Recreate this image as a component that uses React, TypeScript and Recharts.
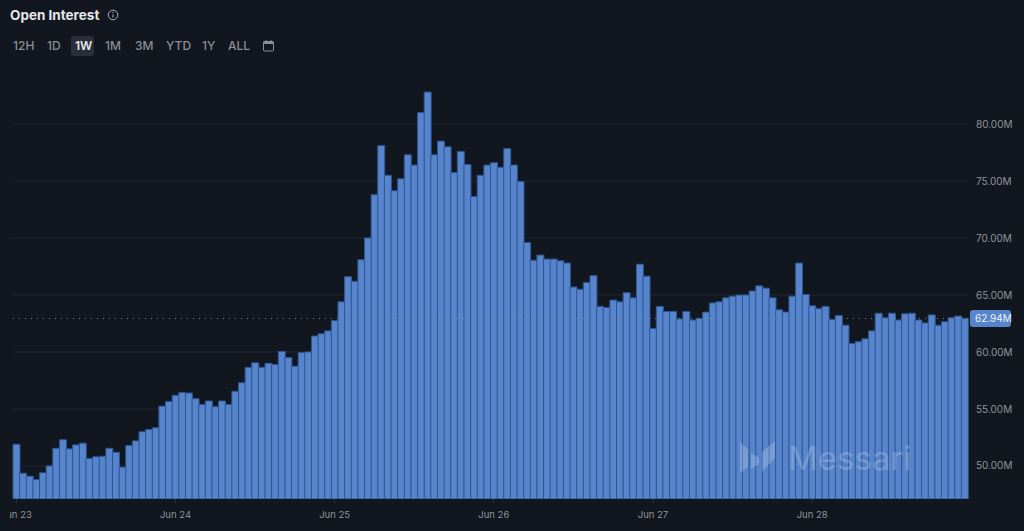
import { Bar, BarChart, CartesianGrid, ReferenceLine, XAxis, YAxis } from "recharts";

const openInterest = [
  51.9, 49.36, 49.1, 48.8, 49.4, 50.0, 51.55, 52.3, 51.5, 51.85, 52.0, 50.65, 50.8, 50.85, 51.55, 51.2,
  49.9, 51.8, 52.2, 53.0, 53.2, 53.35, 55.25, 55.65, 56.2, 56.45, 56.4, 55.9, 55.4, 55.7, 55.2, 55.7,
  55.4, 56.55, 57.3, 58.65, 59.05, 58.65, 59.0, 58.9, 60.05, 59.5, 58.75, 59.95, 60.0, 61.4, 61.6, 61.85,
  62.75, 64.4, 66.6, 66.2, 68.1, 70.0, 73.8, 78.1, 75.5, 74.15, 75.2, 77.3, 76.4, 81.0, 82.8, 77.3,
  78.5, 78.0, 75.75, 77.6, 76.45, 73.65, 75.5, 76.4, 76.6, 76.2, 77.85, 76.4, 74.95, 69.6, 68.05, 68.5,
  68.15, 68.15, 68.0, 67.8, 65.7, 65.5, 66.1, 66.7, 64.0, 63.9, 64.55, 64.4, 65.2, 64.75, 67.7, 66.65,
  62.05, 64.0, 63.55, 63.55, 62.9, 63.55, 62.8, 62.95, 63.5, 64.3, 64.4, 64.75, 64.9, 65.0, 65.0, 65.35,
  65.8, 65.6, 64.75, 63.7, 63.5, 64.9, 67.8, 65.05, 64.05, 63.8, 64.0, 62.85, 63.2, 62.35, 60.75, 60.9,
  61.15, 61.85, 63.4, 63.0, 63.4, 62.8, 63.35, 63.4, 62.8, 62.55, 63.25, 62.35, 62.65, 63.0, 63.15, 62.95,
];
const dayTicks = [0, 24, 48, 72, 96, 120];
const dayLabels = ["Jun 23", "Jun 24", "Jun 25", "Jun 26", "Jun 27", "Jun 28"];
const valueTicks = [50, 55, 60, 65, 70, 75, 80];
const latestValue = 62.94;
const ranges = ["12H", "1D", "1W", "1M", "3M", "YTD", "1Y", "ALL"];
const rangeLefts = [13, 47, 75, 105, 135, 166, 202, 228];

const data = openInterest.map((value, hour) => ({ hour, value }));
const font = "Inter, sans-serif";

const LatestLabel = (props: any) => {
  const y = props.viewBox.y;
  const x = props.viewBox.x + props.viewBox.width;
  return (
    <g>
      <rect x={x + 2} y={y - 8.5} width={41} height={17} rx={3} fill="#5784cb" />
      <text x={x + 7} y={y + 3.5} fill="#eef3fb" fontSize={10} fontFamily={font}>
        62.94M
      </text>
    </g>
  );
};

const App = () => {
  return (
    <div style={{ position: "absolute", left: 0, top: 0, width: 1024, height: 531, background: "#12161e", overflow: "hidden", fontFamily: font }}>
      <div style={{ position: "absolute", left: 10, top: 0 }}>
        <BarChart
          width={1014}
          height={531}
          data={data}
          margin={{ top: 70, right: 0, left: 3, bottom: 0 }}
          barCategoryGap={0}
        >
          <CartesianGrid vertical={false} horizontalValues={valueTicks} stroke="#212732" strokeWidth={1} />
          <XAxis
            dataKey="hour"
            ticks={dayTicks}
            interval={0}
            height={32}
            tickFormatter={(hour: number) => dayLabels[dayTicks.indexOf(hour)]}
            axisLine={false}
            tickLine={{ stroke: "#2b313c" }}
            tickSize={4}
            tickMargin={8}
            tick={{ fill: "#90959d", fontSize: 9.5, fontFamily: font }}
          />
          <YAxis
            orientation="right"
            width={56}
            domain={[47.1, 84.74]}
            ticks={valueTicks}
            allowDataOverflow
            tickFormatter={(v: number) => `${v.toFixed(2)}M`}
            axisLine={false}
            tickLine={false}
            tickSize={8}
            tickMargin={0}
            tick={{ fill: "#90959d", fontSize: 10, fontFamily: font }}
          />
          <ReferenceLine y={latestValue} stroke="#7d828a" strokeDasharray="1 5" label={<LatestLabel />} />
          <Bar dataKey="value" fill="#5784cb" stroke="#2a5796" strokeWidth={1} isAnimationActive={false} />
        </BarChart>
      </div>

      <div style={{ position: "absolute", left: 10, top: 7, color: "#e6e8eb", fontSize: 13.5, fontWeight: 700, lineHeight: "16px" }}>
        Open Interest
      </div>
      <svg style={{ position: "absolute", left: 107, top: 9 }} width={12} height={12} viewBox="0 0 12 12">
        <circle cx={6} cy={6} r={4.8} fill="none" stroke="#a9adb3" strokeWidth={1} />
        <line x1={6} y1={5.4} x2={6} y2={8.6} stroke="#a9adb3" strokeWidth={1} />
        <circle cx={6} cy={3.6} r={0.7} fill="#a9adb3" />
      </svg>

      <div style={{ position: "absolute", left: 71, top: 36, width: 23, height: 20, borderRadius: 3, background: "#2a2e37" }} />
      {ranges.map((range, i) => (
        <div
          key={range}
          style={{
            position: "absolute",
            left: rangeLefts[i],
            top: 38,
            fontSize: 12,
            lineHeight: "15px",
            fontWeight: range === "1W" ? 600 : 500,
            color: range === "1W" ? "#e6e8eb" : "#8a8e96",
          }}
        >
          {range}
        </div>
      ))}
      <svg style={{ position: "absolute", left: 262, top: 39 }} width={13} height={13} viewBox="0 0 13 13">
        <rect x={1.5} y={2.5} width={10} height={9.5} rx={1} fill="none" stroke="#8a8e96" strokeWidth={1} />
        <rect x={1.5} y={2.5} width={10} height={2.5} fill="#8a8e96" />
        <line x1={4} y1={1} x2={4} y2={3} stroke="#8a8e96" />
        <line x1={9} y1={1} x2={9} y2={3} stroke="#8a8e96" />
      </svg>

      <svg style={{ position: "absolute", left: 738, top: 440 }} width={40} height={36} viewBox="0 0 40 36" opacity={0.2}>
        <polygon points="2,2 10,9 10,27 2,33" fill="#ffffff" />
        <polygon points="13,13 21,18 21,24 13,29" fill="#ffffff" />
        <polygon points="24,12 37,1 37,18 24,32" fill="#ffffff" />
      </svg>
      <div style={{ position: "absolute", left: 788, top: 439, fontSize: 33, lineHeight: "38px", fontWeight: 400, color: "#ffffff", opacity: 0.2 }}>
        Messari
      </div>
    </div>
  );
};

export default App;
